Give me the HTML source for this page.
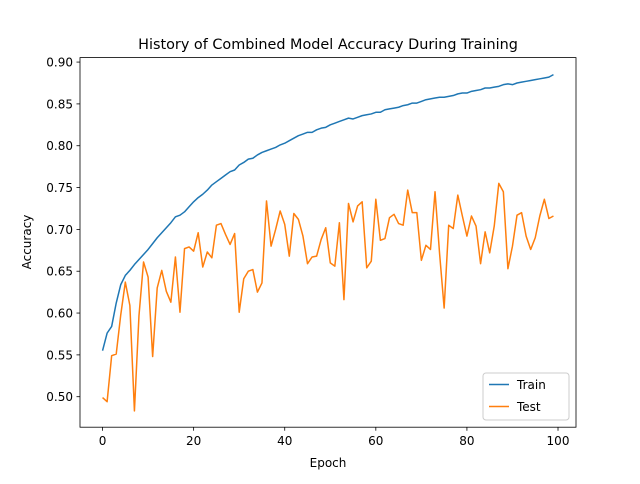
<!DOCTYPE html>
<html><head><meta charset="utf-8"><style>
body{margin:0;background:#fff;font-family:"DejaVu Sans","Liberation Sans",sans-serif}
svg text{font-family:"DejaVu Sans","Liberation Sans",sans-serif;fill:#000}
</style></head><body>
<svg id="chart" width="640" height="480" xmlns="http://www.w3.org/2000/svg">
<rect width="640" height="480" fill="#fff"/>
<text x="328" y="49" font-size="14.4" text-anchor="middle">History of Combined Model Accuracy During Training</text>
<g id="plot"></g>
<rect x="80" y="57.6" width="496" height="369.6" fill="none" stroke="#000" stroke-width="0.8"/>
<text x="328" y="467" font-size="12" text-anchor="middle">Epoch</text>
<text x="0" y="0" font-size="12" text-anchor="middle" transform="translate(31,242) rotate(-90)">Accuracy</text>
<g>
<rect x="483" y="373" width="86" height="47" rx="3" fill="#fff" fill-opacity="0.8" stroke="#ccc" stroke-width="1"/>
<line x1="489" y1="384.5" x2="509" y2="384.5" stroke="#1f77b4" stroke-width="1.5"/>
<text x="517" y="389" font-size="12">Train</text>
<line x1="489" y1="406.5" x2="509" y2="406.5" stroke="#ff7f0e" stroke-width="1.5"/>
<text x="517" y="411" font-size="12">Test</text>
</g>
</svg>
<script>
const xTicks=[0,20,40,60,80,100];
const yTicks=[0.50,0.55,0.60,0.65,0.70,0.75,0.80,0.85,0.90];
const train=[0.555,0.576,0.584,0.612,0.634,0.645,0.651,0.658,0.664,0.670,0.676,0.683,0.690,0.696,0.702,0.708,0.715,0.717,0.721,0.727,0.733,0.738,0.742,0.747,0.753,0.757,0.761,0.765,0.769,0.771,0.777,0.780,0.784,0.785,0.789,0.792,0.794,0.796,0.798,0.801,0.803,0.806,0.809,0.812,0.814,0.816,0.816,0.819,0.821,0.822,0.825,0.827,0.829,0.831,0.833,0.832,0.834,0.836,0.837,0.838,0.840,0.840,0.843,0.844,0.845,0.846,0.848,0.849,0.851,0.851,0.853,0.855,0.856,0.857,0.858,0.858,0.859,0.860,0.862,0.863,0.863,0.865,0.866,0.867,0.869,0.869,0.870,0.871,0.873,0.874,0.873,0.875,0.876,0.877,0.878,0.879,0.880,0.881,0.882,0.885];
const test=[0.499,0.494,0.549,0.551,0.598,0.637,0.609,0.483,0.597,0.661,0.643,0.548,0.630,0.651,0.626,0.613,0.667,0.601,0.677,0.679,0.674,0.696,0.655,0.673,0.666,0.705,0.707,0.694,0.682,0.695,0.601,0.641,0.650,0.652,0.625,0.636,0.734,0.680,0.700,0.722,0.706,0.668,0.719,0.712,0.692,0.659,0.667,0.668,0.688,0.702,0.660,0.656,0.708,0.616,0.731,0.709,0.728,0.733,0.654,0.662,0.736,0.687,0.689,0.714,0.718,0.707,0.705,0.747,0.720,0.720,0.663,0.681,0.676,0.745,0.671,0.606,0.705,0.701,0.741,0.716,0.692,0.716,0.704,0.659,0.697,0.672,0.704,0.755,0.745,0.653,0.680,0.717,0.720,0.692,0.676,0.690,0.716,0.736,0.713,0.716];
const NS='http://www.w3.org/2000/svg';
const g=document.getElementById('plot');
const X=v=>80+(v+4.95)/108.9*496;
const Y=v=>427.2-(v-0.46355)/(0.90535-0.46355)*369.6;
function mk(t,a){const e=document.createElementNS(NS,t);for(const k in a)e.setAttribute(k,a[k]);g.appendChild(e);return e;}
xTicks.forEach(t=>{
 const l=mk('line',{x1:X(t),x2:X(t),y1:427.2,y2:430.7,stroke:'#000','stroke-width':0.8});
 
 
 const s=mk('text',{x:X(t),y:445,'font-size':12,'text-anchor':'middle'});s.textContent=t;
 
 
});
yTicks.forEach(t=>{
 const l=mk('line',{x1:76.5,x2:80,y1:Y(t),y2:Y(t),stroke:'#000','stroke-width':0.8});
 
 
 const s=mk('text',{x:73,y:Y(t)+4.5,'font-size':12,'text-anchor':'end'});s.textContent=t.toFixed(2);
 
 
});
function line(arr,c,n){
 const p=mk('polyline',{points:arr.map((v,i)=>X(i)+','+Y(v)).join(' '),fill:'none',stroke:c,'stroke-width':1.5,'stroke-linejoin':'round'});
 
 
}
line(train,'#1f77b4','train-line');
line(test,'#ff7f0e','test-line');
</script>
</body></html>
